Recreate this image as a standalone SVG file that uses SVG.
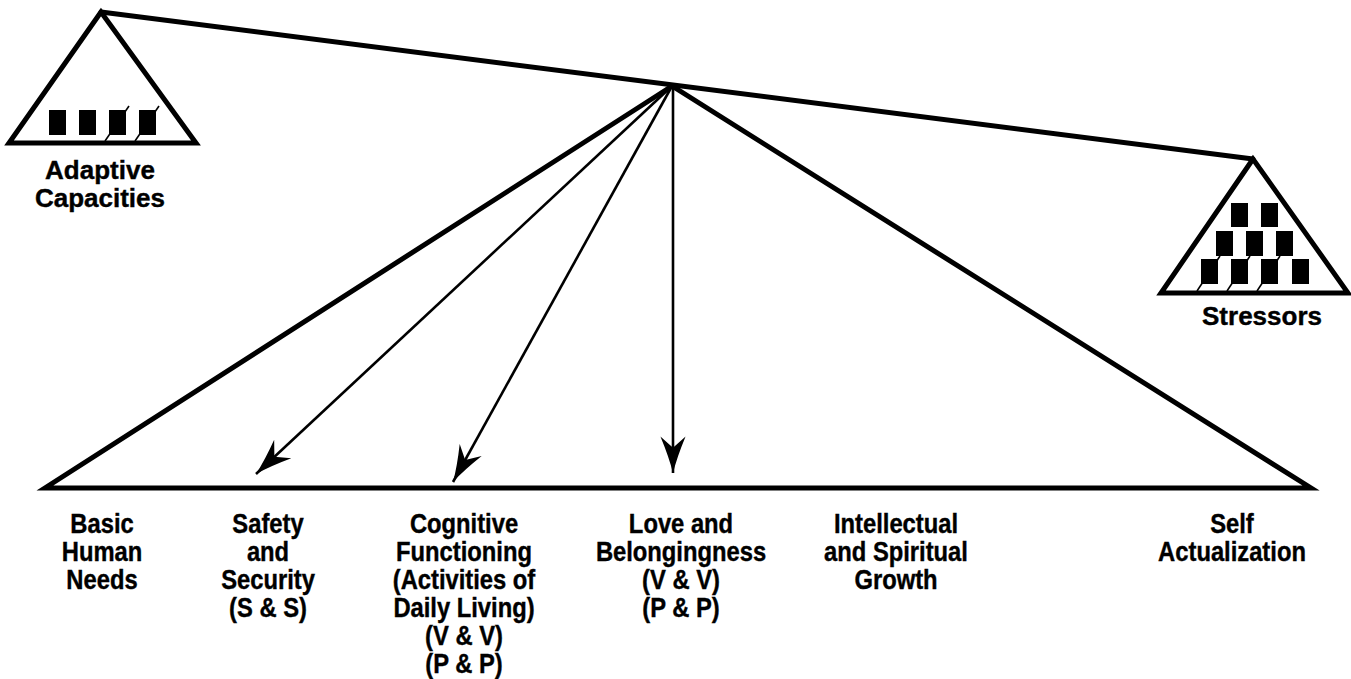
<svg xmlns="http://www.w3.org/2000/svg" width="1351" height="679" viewBox="0 0 1351 679">
  <style>
    .frame { fill: none; stroke: #000; stroke-width: 5; stroke-linejoin: miter; }
    .beam { fill: none; stroke: #000; stroke-width: 5; stroke-linecap: round; }
    .arrow { fill: none; stroke: #000; stroke-width: 2.6; marker-end: url(#head); }
    .blk { fill: #000; }
    .tick { stroke: #000; stroke-width: 1.6; }
    .lbl { font-family: "Liberation Sans", Arial, sans-serif; font-weight: bold; font-size: 26px; fill: #000; stroke: #000; stroke-width: 0.4; text-anchor: middle; }
    .lvl { font-family: "Liberation Sans", Arial, sans-serif; font-weight: bold; font-size: 27px; fill: #000; stroke: #000; stroke-width: 0.4; text-anchor: middle; }
  </style>
  <defs>
    <marker id="head" markerUnits="userSpaceOnUse" markerWidth="40" markerHeight="30" viewBox="-33 -13 35 26" refX="0" refY="0" orient="auto">
      <path d="M0,0 Q-14,-3.5 -32,-11 L-22,0 L-32,11 Q-14,3.5 0,0 Z" fill="#000"/>
    </marker>
  </defs>

  <!-- balance beam -->
  <g id="beam">
    <line class="beam" x1="101" y1="12" x2="1253" y2="159"/>
  </g>

  <!-- left weight: adaptive capacities -->
  <g id="adaptive-capacities">
    <polygon class="frame" points="101,12 9,143 196,143"/>
    <rect class="blk" x="49" y="110" width="17" height="25"/>
    <rect class="blk" x="79" y="110" width="17" height="25"/>
    <rect class="blk" x="109" y="110" width="17" height="25"/>
    <rect class="blk" x="139" y="110" width="17" height="25"/>
    <line class="tick" x1="105" y1="141" x2="129" y2="106"/>
    <line class="tick" x1="135" y1="141" x2="159" y2="106"/>
    <text class="lbl" x="100" y="179">Adaptive</text>
    <text class="lbl" x="100" y="207">Capacities</text>
  </g>

  <!-- right weight: stressors -->
  <g id="stressors">
    <polygon class="frame" points="1253,159 1161,293 1348,293"/>
    <rect class="blk" x="1231" y="203" width="17" height="24"/>
    <rect class="blk" x="1261" y="203" width="17" height="24"/>
    <rect class="blk" x="1216" y="231" width="17" height="25"/>
    <rect class="blk" x="1246" y="231" width="17" height="25"/>
    <rect class="blk" x="1276" y="231" width="17" height="25"/>
    <rect class="blk" x="1201" y="259" width="17" height="25"/>
    <rect class="blk" x="1231" y="259" width="17" height="25"/>
    <rect class="blk" x="1261" y="259" width="17" height="25"/>
    <rect class="blk" x="1292" y="259" width="17" height="25"/>
    <line class="tick" x1="1197" y1="291" x2="1220" y2="256"/>
    <line class="tick" x1="1227" y1="291" x2="1250" y2="256"/>
    <line class="tick" x1="1257" y1="291" x2="1280" y2="256"/>
    <text class="lbl" x="1262" y="325">Stressors</text>
  </g>

  <!-- hierarchy triangle -->
  <g id="hierarchy">
    <polygon class="frame" points="672,86 45,488 1311,488"/>
  </g>

  <!-- connectors from the fulcrum -->
  <g id="connectors">
    <line class="arrow" x1="672" y1="86" x2="256" y2="474"/>
    <line class="arrow" x1="672" y1="86" x2="453" y2="482"/>
    <line class="arrow" x1="673" y1="86" x2="673" y2="473"/>
  </g>

  <!-- levels of need (set slightly condensed) -->
  <g id="basic-human-needs" transform="translate(102,0) scale(0.88,1)">
    <text class="lvl" x="0" y="533">Basic</text>
    <text class="lvl" x="0" y="561">Human</text>
    <text class="lvl" x="0" y="589">Needs</text>
  </g>
  <g id="safety-security" transform="translate(268,0) scale(0.88,1)">
    <text class="lvl" x="0" y="533">Safety</text>
    <text class="lvl" x="0" y="561">and</text>
    <text class="lvl" x="0" y="589">Security</text>
    <text class="lvl" x="0" y="617">(S &amp; S)</text>
  </g>
  <g id="cognitive-functioning" transform="translate(464,0) scale(0.88,1)">
    <text class="lvl" x="0" y="533">Cognitive</text>
    <text class="lvl" x="0" y="561">Functioning</text>
    <text class="lvl" x="0" y="589">(Activities of</text>
    <text class="lvl" x="0" y="617">Daily Living)</text>
    <text class="lvl" x="0" y="645">(V &amp; V)</text>
    <text class="lvl" x="0" y="673">(P &amp; P)</text>
  </g>
  <g id="love-belongingness" transform="translate(681,0) scale(0.88,1)">
    <text class="lvl" x="0" y="533">Love and</text>
    <text class="lvl" x="0" y="561">Belongingness</text>
    <text class="lvl" x="0" y="589">(V &amp; V)</text>
    <text class="lvl" x="0" y="617">(P &amp; P)</text>
  </g>
  <g id="intellectual-spiritual" transform="translate(896,0) scale(0.88,1)">
    <text class="lvl" x="0" y="533">Intellectual</text>
    <text class="lvl" x="0" y="561">and Spiritual</text>
    <text class="lvl" x="0" y="589">Growth</text>
  </g>
  <g id="self-actualization" transform="translate(1232,0) scale(0.88,1)">
    <text class="lvl" x="0" y="533">Self</text>
    <text class="lvl" x="0" y="561">Actualization</text>
  </g>
</svg>
